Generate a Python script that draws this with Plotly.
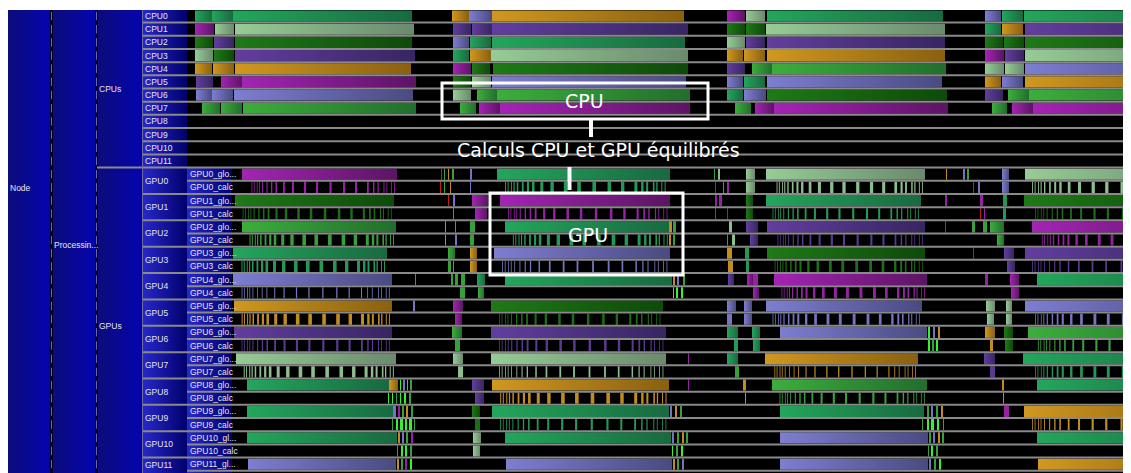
import plotly.graph_objects as go

# ---------------------------------------------------------------- palette
# state code -> (left / light tone, right / dark tone)
PALETTE = {
    "G": ("#23a65c", "#186a40"),
    "S": ("#96cc96", "#6a8a6c"),
    "D": ("#1e7a16", "#0e4a0a"),
    "P": ("#623e9e", "#382562"),
    "O": ("#d09820", "#8a6010"),
    "M": ("#a424b4", "#5c1464"),
    "L": ("#7e7ed2", "#4a4a82"),
    "B": ("#3cae3c", "#226e2c"),
    "Y": ("#30ff30", "#20d020"),
    "R": ("#cc2020", "#901010"),
}

T_END = 944  # visible end of the trace (ms)

# ---------------------------------------------------------------- CPU states (start ms, end ms, state)
CPU0 = [(8, 25, "G"), (25, 46, "G"), (46, 225, "G"), (265, 282, "O"), (282, 305, "L"), (305, 497, "O"),
        (540, 558, "M"), (559, 578, "S"), (580, 756, "G"), (798, 814, "L"), (815, 836, "G"), (837, 944, "G")]
CPU1 = [(8, 27, "M"), (28, 47, "S"), (48, 227, "S"), (266, 284, "P"), (285, 305, "P"), (305, 501, "P"),
        (540, 558, "D"), (559, 578, "D"), (579, 758, "S"), (798, 814, "G"), (815, 836, "O"), (838, 944, "P")]
CPU2 = [(8, 26, "D"), (27, 47, "P"), (48, 225, "D"), (266, 282, "L"), (283, 304, "G"), (305, 498, "G"),
        (540, 558, "S"), (559, 578, "P"), (580, 758, "P"), (798, 816, "D"), (817, 837, "D"), (838, 944, "D")]
CPU3 = [(8, 26, "S"), (27, 47, "D"), (48, 228, "P"), (266, 282, "G"), (283, 304, "O"), (304, 501, "S"),
        (540, 556, "O"), (557, 578, "O"), (580, 758, "O"), (798, 817, "M"), (818, 837, "P"), (838, 944, "S")]
CPU4 = [(8, 25, "O"), (26, 47, "O"), (48, 224, "O"), (266, 284, "M"), (285, 303, "D"), (306, 501, "D"),
        (540, 558, "P"), (565, 585, "B"), (585, 759, "B"), (798, 817, "S"), (818, 837, "S"), (838, 944, "L")]
CPU5 = [(9, 26, "P"), (34, 55, "M"), (55, 229, "M"), (266, 284, "D"), (285, 304, "S"), (305, 499, "L"),
        (540, 556, "L"), (557, 578, "G"), (580, 755, "L"), (798, 814, "O"), (815, 836, "L"), (838, 944, "O")]
CPU6 = [(9, 25, "L"), (25, 46, "L"), (47, 226, "L"), (266, 284, "S"), (290, 310, "B"), (310, 503, "B"),
        (540, 556, "G"), (557, 579, "L"), (580, 760, "D"), (798, 816, "P"), (821, 842, "B"), (842, 944, "B")]
CPU7 = [(15, 33, "B"), (34, 55, "B"), (56, 229, "B"), (273, 289, "B"), (292, 313, "M"), (313, 503, "M"),
        (548, 564, "B"), (568, 587, "M"), (587, 761, "M"), (805, 820, "B"), (825, 846, "M"), (846, 944, "M")]
CPU8, CPU9, CPU10, CPU11 = [], [], [], []

# ---------------------------------------------------------------- GPU states
GPU0_GLO = [(55, 210, "M"), (254, 255, "R"), (257, 258, "B"), (261, 262, "O"), (265, 267, "B"), (283, 285, "L"),
            (310, 483, "G"), (527, 528, "B"), (531, 533, "S"), (559, 568, "S"), (579, 738, "S"), (759, 760, "O"),
            (776, 778, "L"), (780, 782, "B"), (815, 822, "L"), (838, 944, "S")]
GPU0_CALC = [(253, 254, "R"), (257, 258, "B"), (263, 264, "O"), (283, 284, "L"), (528, 529, "R"), (536, 537, "B"),
             (540, 542, "M"), (559, 568, "S"), (786, 787, "R"), (791, 793, "L"), (815, 822, "L")]
GPU1_GLO = [(48, 207, "D"), (261, 262, "R"), (266, 268, "L"), (285, 301, "M"), (313, 483, "M"), (528, 530, "M"),
            (532, 535, "M"), (559, 566, "D"), (579, 734, "G"), (758, 760, "M"), (793, 796, "M"), (816, 820, "G"),
            (837, 944, "D")]
GPU1_CALC = [(266, 267, "L"), (288, 300, "M"), (528, 529, "M"), (540, 541, "D"), (559, 566, "D"), (793, 794, "R"),
             (797, 798, "M"), (816, 819, "G")]
GPU2_GLO = [(55, 209, "B"), (258, 259, "O"), (268, 269, "L"), (283, 288, "B"), (318, 483, "G"), (482, 485, "O"),
            (486, 489, "B"), (542, 545, "S"), (559, 571, "P"), (580, 738, "P"), (758, 759, "M"), (785, 788, "B"),
            (796, 800, "B"), (803, 817, "B"), (845, 944, "M")]
GPU2_CALC = [(258, 259, "O"), (268, 270, "L"), (283, 287, "B"), (482, 484, "O"), (486, 488, "B"), (540, 541, "B"),
             (545, 548, "S"), (563, 571, "P"), (810, 817, "B")]
GPU3_GLO = [(46, 200, "G"), (261, 268, "B"), (283, 290, "O"), (307, 483, "L"), (540, 545, "O"), (558, 562, "G"),
            (580, 738, "D"), (786, 787, "P"), (817, 827, "P"), (838, 944, "P")]
GPU3_CALC = [(261, 264, "B"), (266, 267, "L"), (283, 290, "O"), (541, 546, "O"), (559, 562, "G"), (820, 828, "P")]
GPU4_GLO = [(46, 205, "L"), (228, 229, "B"), (264, 266, "B"), (268, 271, "B"), (274, 278, "B"), (290, 298, "G"),
            (318, 485, "G"), (486, 488, "O"), (490, 492, "L"), (496, 498, "B"), (541, 547, "P"), (560, 566, "M"),
            (566, 571, "M"), (587, 740, "M"), (798, 801, "M"), (823, 832, "M"), (850, 944, "G")]
GPU4_CALC = [(273, 278, "B"), (291, 297, "B"), (486, 487, "Y"), (489, 491, "Y"), (494, 496, "Y"), (566, 572, "M"),
             (824, 832, "M")]
GPU5_GLO = [(47, 205, "O"), (226, 228, "L"), (266, 276, "M"), (304, 476, "D"), (540, 549, "L"), (557, 565, "L"),
            (579, 735, "L"), (799, 808, "S"), (819, 825, "S"), (838, 944, "L")]
GPU5_CALC = [(268, 275, "M"), (540, 545, "L"), (557, 565, "L"), (800, 807, "S"), (819, 825, "S")]
GPU6_GLO = [(47, 205, "P"), (265, 275, "B"), (304, 479, "P"), (540, 551, "G"), (565, 573, "G"), (593, 740, "L"),
            (741, 743, "Y"), (746, 748, "L"), (751, 753, "O"), (798, 808, "O"), (817, 826, "D"), (841, 944, "B")]
GPU6_CALC = [(268, 273, "B"), (547, 551, "G"), (566, 573, "G"), (741, 743, "Y"), (745, 747, "B"), (749, 751, "Y"),
             (803, 806, "O"), (818, 826, "D")]
GPU7_GLO = [(49, 209, "S"), (266, 276, "S"), (304, 479, "S"), (501, 502, "M"), (540, 551, "G"), (578, 731, "O"),
            (797, 808, "P"), (836, 944, "G")]
GPU7_CALC = [(271, 276, "S"), (548, 552, "B"), (803, 808, "P")]
GPU8_GLO = [(60, 202, "G"), (202, 211, "O"), (213, 214, "Y"), (216, 218, "L"), (220, 221, "O"), (223, 225, "B"),
            (285, 297, "P"), (305, 482, "O"), (501, 502, "M"), (556, 559, "O"), (585, 740, "B"), (815, 817, "O"),
            (850, 944, "G")]
GPU8_CALC = [(201, 202, "Y"), (205, 206, "Y"), (209, 210, "B"), (213, 214, "Y"), (217, 219, "Y"), (222, 224, "B"),
             (288, 297, "P"), (558, 559, "O"), (816, 817, "O")]
GPU9_GLO = [(60, 206, "G"), (206, 209, "L"), (211, 213, "M"), (215, 217, "B"), (219, 221, "O"), (224, 226, "B"),
            (285, 293, "D"), (305, 482, "G"), (483, 485, "L"), (488, 490, "O"), (493, 495, "B"), (593, 737, "G"),
            (740, 742, "B"), (744, 746, "L"), (749, 751, "B"), (754, 756, "O"), (817, 822, "M"), (837, 944, "O")]
GPU9_CALC = [(205, 206, "B"), (209, 211, "Y"), (213, 216, "Y"), (218, 220, "Y"), (222, 225, "Y"), (227, 228, "B"),
             (288, 293, "D"), (735, 736, "B"), (740, 742, "Y"), (744, 747, "Y"), (750, 752, "Y"), (756, 757, "B")]
GPU10_GLO = [(60, 210, "G"), (211, 213, "O"), (215, 217, "L"), (219, 221, "B"), (224, 226, "M"), (286, 294, "S"),
             (318, 484, "G"), (485, 487, "L"), (490, 492, "B"), (495, 497, "O"), (499, 501, "B"), (593, 741, "L"),
             (742, 744, "B"), (746, 748, "L"), (751, 753, "O"), (755, 757, "B"), (850, 944, "G")]
GPU10_CALC = [(210, 211, "B"), (214, 216, "Y"), (218, 220, "Y"), (223, 225, "B"), (286, 293, "S"), (485, 486, "Y"),
              (489, 491, "B"), (494, 496, "Y"), (741, 742, "B"), (744, 746, "Y"), (749, 751, "B")]
GPU11_GLO = [(61, 209, "L"), (210, 212, "O"), (214, 216, "B"), (218, 220, "M"), (223, 225, "Y"), (319, 485, "L"),
             (486, 488, "O"), (490, 492, "B"), (495, 497, "L"), (593, 741, "L"), (742, 744, "L"), (747, 749, "B"),
             (752, 754, "Y"), (851, 944, "O")]
GPU11_CALC = []

# windows of dense kernel launches on calc rows: (start ms, end ms, state, stripe weight)
GPU0_KERNELS = [(60, 210, "M", 0.6), (313, 481, "G", 1.0), (585, 738, "S", 0.9), (840, 1010, "S", 0.9)]
GPU1_KERNELS = [(51, 207, "D", 0.7), (316, 483, "M", 0.7), (581, 734, "G", 0.6), (843, 1010, "D", 0.6)]
GPU2_KERNELS = [(58, 209, "B", 1.0), (321, 483, "G", 1.0), (586, 738, "P", 0.6), (850, 1010, "M", 0.8)]
GPU3_KERNELS = [(50, 200, "G", 1.0), (310, 483, "L", 0.5), (583, 738, "D", 0.8), (840, 1010, "P", 0.5)]
GPU4_KERNELS = [(50, 205, "L", 0.35), (590, 740, "M", 0.8)]
GPU5_KERNELS = [(50, 205, "O", 1.0), (307, 476, "D", 0.7), (581, 735, "L", 0.8), (843, 1010, "L", 0.8)]
GPU6_KERNELS = [(50, 205, "P", 0.6), (307, 479, "P", 0.7), (846, 1010, "B", 0.6)]
GPU7_KERNELS = [(52, 209, "S", 1.0), (307, 479, "S", 0.5), (583, 731, "O", 0.35), (843, 1010, "G", 0.8)]
GPU8_KERNELS = [(308, 482, "O", 1.0), (588, 740, "B", 0.6)]
GPU9_KERNELS = [(308, 482, "G", 0.6), (840, 1010, "O", 0.6)]
GPU10_KERNELS = []
GPU11_KERNELS = []

# kernel-launch pattern inside a window (relative position, relative width)
STRIPE_POS = [0.03, 0.045, 0.065, 0.08, 0.10, 0.13, 0.16, 0.19, 0.24, 0.30, 0.38, 0.46,
              0.55, 0.64, 0.72, 0.80, 0.84, 0.87, 0.91, 0.93, 0.96, 0.98]
STRIPE_W = [1.0, 1.0, 1.0, 1.2, 1.5, 1.8, 2.2, 2.6, 3.0, 3.4, 3.6, 3.6,
            3.6, 3.6, 3.4, 3.0, 2.4, 2.0, 1.6, 1.3, 1.0, 1.0]

CPU_NAMES = [f"CPU{i}" for i in range(12)]
GPU_NAMES = [f"GPU{i}" for i in range(12)]
SUB_LABELS = ["GPU0_glo...", "GPU0_calc", "GPU1_glo...", "GPU1_calc", "GPU2_glo...", "GPU2_calc",
              "GPU3_glo...", "GPU3_calc", "GPU4_glo...", "GPU4_calc", "GPU5_glo...", "GPU5_calc",
              "GPU6_glo...", "GPU6_calc", "GPU7_glo...", "GPU7_calc", "GPU8_glo...", "GPU8_calc",
              "GPU9_glo...", "GPU9_calc", "GPU10_gl...", "GPU10_calc", "GPU11_gl...", "GPU11_calc"]

# ---------------------------------------------------------------- row table
CPU_ROWS = [CPU0, CPU1, CPU2, CPU3, CPU4, CPU5, CPU6, CPU7, CPU8, CPU9, CPU10, CPU11]
GPU_ROWS = [(GPU0_GLO, GPU0_CALC, GPU0_KERNELS), (GPU1_GLO, GPU1_CALC, GPU1_KERNELS),
            (GPU2_GLO, GPU2_CALC, GPU2_KERNELS), (GPU3_GLO, GPU3_CALC, GPU3_KERNELS),
            (GPU4_GLO, GPU4_CALC, GPU4_KERNELS), (GPU5_GLO, GPU5_CALC, GPU5_KERNELS),
            (GPU6_GLO, GPU6_CALC, GPU6_KERNELS), (GPU7_GLO, GPU7_CALC, GPU7_KERNELS),
            (GPU8_GLO, GPU8_CALC, GPU8_KERNELS), (GPU9_GLO, GPU9_CALC, GPU9_KERNELS),
            (GPU10_GLO, GPU10_CALC, GPU10_KERNELS), (GPU11_GLO, GPU11_CALC, GPU11_KERNELS)]


def mix(c1, c2, a):
    r1, g1, b1 = int(c1[1:3], 16), int(c1[3:5], 16), int(c1[5:7], 16)
    r2, g2, b2 = int(c2[1:3], 16), int(c2[3:5], 16), int(c2[5:7], 16)
    return "#%02x%02x%02x" % (round(r1 + (r2 - r1) * a), round(g1 + (g2 - g1) * a), round(b1 + (b2 - b1) * a))


fig = go.Figure()
H = 0.42
flat = {}


def box(x0, x1, r0, r1):
    return [x0, x1, x1, x0, x0, None], [r0, r0, r1, r1, r0, None]


def add_state(row, t0, t1, st):
    light, dark = PALETTE[st]
    if t1 - t0 >= 6:
        stop = t1 if t1 < T_END else t0 + 190
        xs, ys = box(t0, t1, row - H, row + H)
        fig.add_trace(go.Scatter(
            x=xs[:-1], y=ys[:-1], mode="lines", line=dict(width=0, color="rgba(0,0,0,0)"),
            fill="toself",
            fillgradient=dict(type="horizontal", colorscale=[[0, light], [1, dark]], start=t0, stop=stop),
            hoverinfo="skip", showlegend=False))
    else:
        col = mix(light, dark, 0.2)
        xs, ys = box(t0, t1, row - H, row + H)
        flat.setdefault(col, ([], []))
        flat[col][0].extend(xs)
        flat[col][1].extend(ys)


for r, segs in enumerate(CPU_ROWS):
    for t0, t1, st in segs:
        add_state(r, t0, t1, st)

for k, (glo, calc, kernels) in enumerate(GPU_ROWS):
    rg, rc = 12 + 2 * k, 13 + 2 * k
    for t0, t1, st in glo:
        add_state(rg, t0, t1, st)
    for t0, t1, st in calc:
        add_state(rc, t0, t1, st)
    for t0, t1, st, wt in kernels:
        span = t1 - t0
        for p, w in zip(STRIPE_POS, STRIPE_W):
            s = t0 + p * span
            add_state(rc, s, s + max(0.8, w * wt), st)

for col, (xs, ys) in flat.items():
    fig.add_trace(go.Scatter(x=xs, y=ys, mode="lines", line=dict(width=0, color="rgba(0,0,0,0)"),
                             fill="toself", fillcolor=col, hoverinfo="skip", showlegend=False))

# ---------------------------------------------------------------- container panel (left)
X_NODE, X_PROC, X_GROUP, X_CELL, X_SUB, X_SUB_END = -179, -135, -90, -45, 0, 45
ROW_TOP, ROW_BOT = -0.5, 35.5
DARK_L, DARK_R = "#0c0c7a", "#0404b0"
CELL_L, CELL_R = "#2828cc", "#00006c"


def add_cell(x0, x1, r0, r1, cl, cr):
    xs, ys = box(x0, x1, r0, r1)
    fig.add_trace(go.Scatter(
        x=xs[:-1], y=ys[:-1], mode="lines", line=dict(width=0, color="rgba(0,0,0,0)"), fill="toself",
        fillgradient=dict(type="horizontal", colorscale=[[0, cl], [1, cr]], start=x0, stop=x1),
        hoverinfo="skip", showlegend=False))


add_cell(X_NODE, X_PROC - 1, ROW_TOP, ROW_BOT, DARK_L, DARK_R)
add_cell(X_PROC, X_GROUP - 1, ROW_TOP, ROW_BOT, DARK_L, DARK_R)
add_cell(X_GROUP, X_CELL, ROW_TOP, 11.5, DARK_L, DARK_R)
add_cell(X_GROUP, X_CELL, 11.5, ROW_BOT, DARK_L, DARK_R)
for i in range(12):
    add_cell(X_CELL, X_SUB, i - 0.5, i + 0.5, CELL_L, CELL_R)
for k in range(12):
    add_cell(X_CELL, X_SUB, 11.5 + 2 * k, 13.5 + 2 * k, CELL_L, CELL_R)
for j in range(24):
    add_cell(X_SUB, X_SUB_END, 11.5 + j, 12.5 + j, CELL_L, CELL_R)

# column dividers: dark rule + gray-blue dashes per row
for xd in (X_PROC - 0.5, X_GROUP - 0.5):
    fig.add_trace(go.Scatter(x=[xd, xd], y=[ROW_TOP, ROW_BOT], mode="lines",
                             line=dict(color="#000020", width=3), hoverinfo="skip", showlegend=False))
    dx, dy = [], []
    for i in range(36):
        dx += [xd, xd, None]
        dy += [i - 0.32, i + 0.32, None]
    fig.add_trace(go.Scatter(x=dx, y=dy, mode="lines", line=dict(color="#6868a8", width=1),
                             hoverinfo="skip", showlegend=False))

# ---------------------------------------------------------------- shapes
shapes = []
GRAY = "#8a8a8a"
for i in range(35):
    b = i + 0.5
    if i < 11:
        x0 = X_CELL
    elif i == 11:
        x0 = X_GROUP
    elif (i - 12) % 2 == 0:
        x0 = X_SUB
    else:
        x0 = X_CELL
    shapes.append(dict(type="line", xref="x", yref="y", x0=x0, x1=T_END, y0=b, y1=b,
                       line=dict(color=GRAY, width=2), layer="above"))
shapes.append(dict(type="line", xref="x", yref="y", x0=X_CELL + 0.5, x1=X_CELL + 0.5, y0=ROW_TOP, y1=ROW_BOT,
                   line=dict(color="#6a6a9a", width=1), layer="above"))

WHITE = "#ffffff"
shapes += [
    dict(type="rect", xref="x", yref="y", x0=255, x1=521, y0=5.08, y1=7.81,
         line=dict(color=WHITE, width=3), fillcolor="rgba(0,0,0,0)", layer="above"),
    dict(type="line", xref="x", yref="y", x0=404, x1=404, y0=7.81, y1=9.18,
         line=dict(color=WHITE, width=4), layer="above"),
    dict(type="line", xref="x", yref="y", x0=382.5, x1=382.5, y0=11.46, y1=13.2,
         line=dict(color=WHITE, width=4), layer="above"),
    dict(type="rect", xref="x", yref="y", x0=303, x1=496, y0=13.43, y1=19.65,
         line=dict(color=WHITE, width=3), fillcolor="rgba(0,0,0,0)", layer="above"),
]

# ---------------------------------------------------------------- annotations
ann = []
SMALL = dict(family="Liberation Sans, Arial, sans-serif", size=8.5, color="#e6e6e6")


def label(x, y, text, font=SMALL, xanchor="left"):
    ann.append(dict(x=x, y=y, xref="x", yref="y", text=text, showarrow=False,
                    xanchor=xanchor, yanchor="middle", font=font))


label(X_NODE, 13.05, "Node")
label(X_PROC, 17.4, "Processin...")
label(X_GROUP, 5.5, "CPUs")
label(X_GROUP, 23.5, "GPUs")
for i, nm in enumerate(CPU_NAMES):
    label(X_CELL + 1, i, nm)
for k, nm in enumerate(GPU_NAMES):
    label(X_CELL + 1, min(12.5 + 2 * k, 34.1), nm)
for j, nm in enumerate(SUB_LABELS):
    label(X_SUB + 1, 12 + j, nm)

BIG = dict(family="DejaVu Sans, sans-serif", size=19, color=WHITE)
label(397, 6.45, "CPU", BIG, "center")
label(411, 10.17, "Calculs CPU et GPU équilibrés", BIG, "center")
label(401, 16.62, "GPU", BIG, "center")

# page body adds an 8 px offset; the figure fills the rest of the 1131x473 window
fig.update_layout(
    width=1123, height=465, autosize=False,
    margin=dict(l=0, r=0, t=2, b=0, pad=0),
    paper_bgcolor="#ffffff", plot_bgcolor="#000000",
    xaxis=dict(range=[-179, T_END], visible=False, fixedrange=True),
    yaxis=dict(range=[34.67, -0.455], visible=False, fixedrange=True),
    shapes=shapes, annotations=ann, showlegend=False, hovermode=False,
)

fig.write_html("out.html", config={"displayModeBar": False})
